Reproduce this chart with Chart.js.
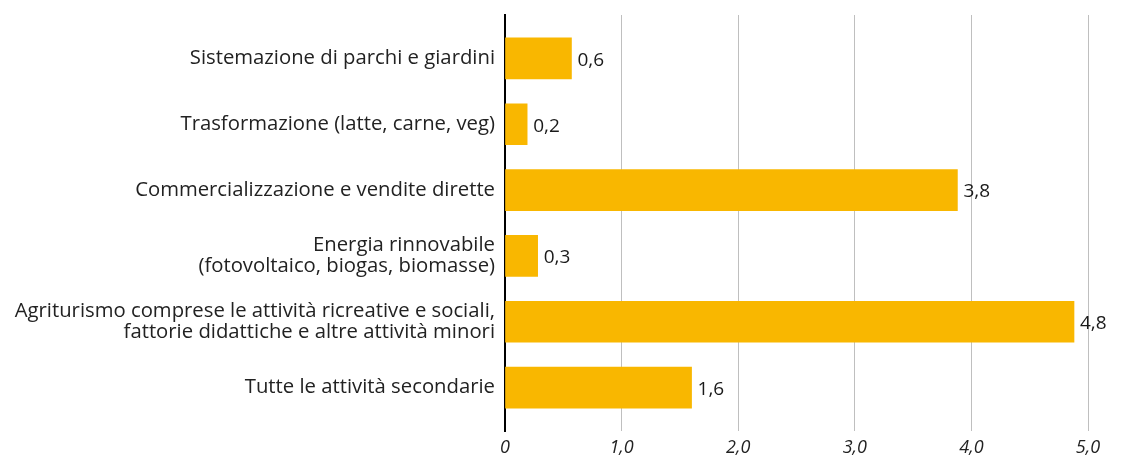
<!DOCTYPE html>
<html>
<head>
<meta charset="utf-8">
<script src="https://cdn.jsdelivr.net/npm/chart.js@4"></script>
<style>
  html, body { margin: 0; padding: 0; background: #fff; }
  #wrap { width: 1125px; height: 458px; }
</style>
</head>
<body>
<div id="wrap"><canvas id="c" width="1125" height="458"></canvas></div>
<script>
const categories = [
  "Sistemazione di parchi e giardini",
  "Trasformazione (latte, carne, veg)",
  "Commercializzazione e vendite dirette",
  "Energia rinnovabile\n(fotovoltaico, biogas, biomasse)",
  "Agriturismo comprese le attività ricreative e sociali,\nfattorie didattiche e altre attività minori",
  "Tutte le attività secondarie"
];
const values = [0.57, 0.19, 3.88, 0.28, 4.88, 1.60];
const valueLabels = ["0,6", "0,2", "3,8", "0,3", "4,8", "1,6"];
const xTickLabels = ["0", "1,0", "2,0", "3,0", "4,0", "5,0"];

const FONT = "'Open Sans', 'Noto Sans', sans-serif";

const valueLabelPlugin = {
  id: 'valueLabels',
  afterDraw(chart) {
    const ctx = chart.ctx;
    const meta = chart.getDatasetMeta(0);
    ctx.save();
    ctx.font = "19px " + FONT;
    ctx.fillStyle = "#1a1a1a";
    ctx.textAlign = "left";
    ctx.textBaseline = "middle";
    meta.data.forEach((bar, i) => {
      ctx.fillText(valueLabels[i], bar.x + 6, bar.y + 2);
    });
    ctx.restore();
  }
};

new Chart(document.getElementById('c'), {
  type: 'bar',
  data: {
    datasets: [{
      data: values.map((v, i) => ({ x: v, y: i })),
      backgroundColor: '#F9B700',
      borderWidth: 0,
      barThickness: 41
    }]
  },
  options: {
    indexAxis: 'y',
    responsive: false,
    animation: false,
    layout: { padding: { top: 15, right: 37, bottom: 0, left: 0 } },
    plugins: { legend: { display: false }, tooltip: { enabled: false } },
    scales: {
      x: {
        type: 'linear',
        min: 0, max: 5,
        z: 1,
        afterBuildTicks(scale) {
          scale.ticks = xTickLabels.map((_, i) => ({ value: i }));
        },
        afterFit(scale) { scale.height = 27; scale.paddingLeft = 0; scale.paddingRight = 0; },
        ticks: {
          callback: (v) => xTickLabels[v],
          font: { family: FONT, size: 18, style: 'italic' },
          color: '#222',
          padding: 6,
          maxRotation: 0
        },
        grid: {
          color: (c) => c.index === 0 ? 'rgba(0,0,0,0)' : 'rgba(0,0,0,0.25)',
          lineWidth: 1,
          drawTicks: false
        },
        border: { display: false }
      },
      y: {
        type: 'linear',
        reverse: true,
        offset: false,
        min: -0.66, max: 5.66,
        afterBuildTicks(scale) {
          scale.ticks = categories.map((_, i) => ({ value: i }));
        },
        afterFit(scale) { scale.width = 505; scale.paddingTop = 0; scale.paddingBottom = 0; },
        ticks: {
          callback: (v) => categories[v] !== undefined ? categories[v].split("\n") : '',
          font: { family: FONT, size: 20.3, lineHeight: 1.03 },
          color: '#222',
          padding: 10,
          crossAlign: 'near'
        },
        grid: { display: false, drawTicks: false },
        border: { display: true, color: '#000', width: 2 }
      }
    }
  },
  plugins: [valueLabelPlugin]
});
</script>
</body>
</html>
